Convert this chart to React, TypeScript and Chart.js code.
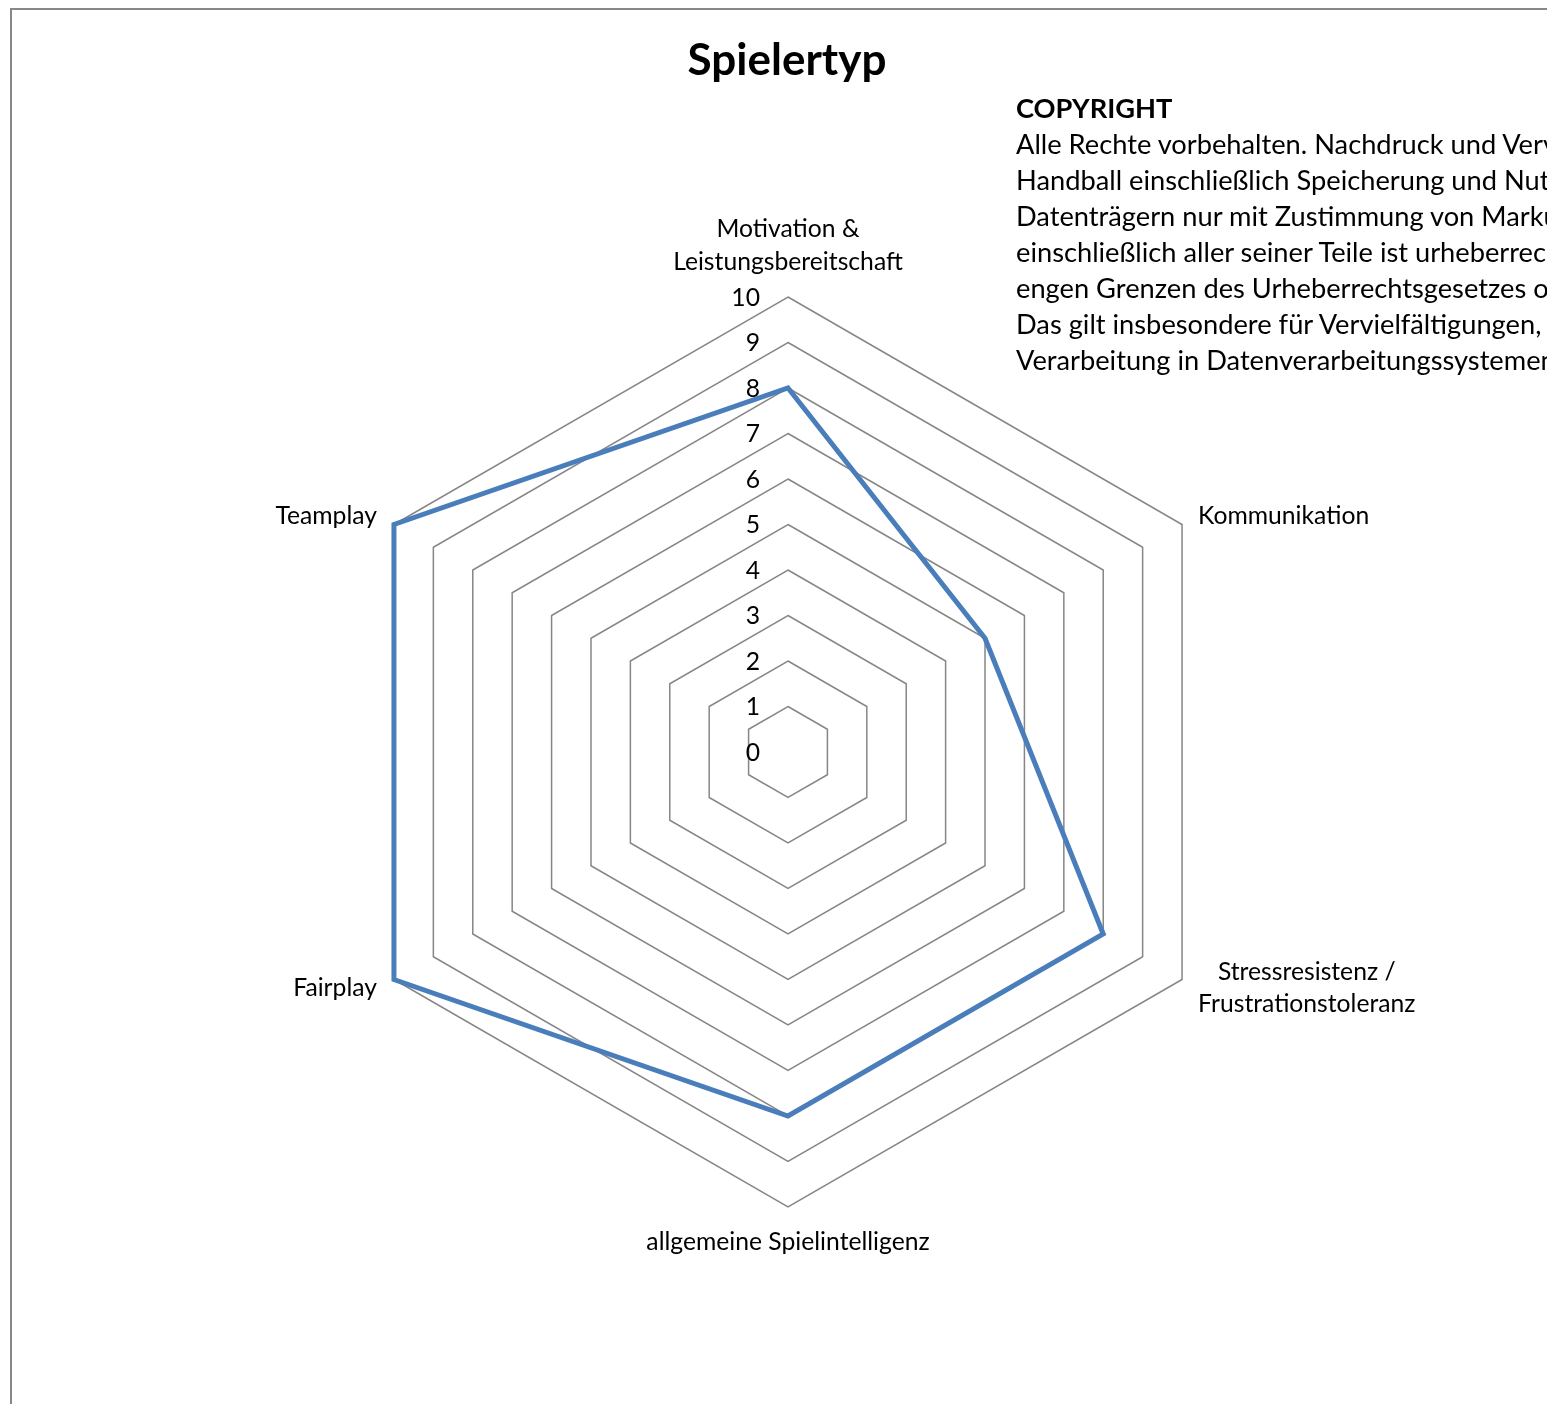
import React, { useEffect, useRef } from "react";
import { Chart, registerables } from "chart.js";

Chart.register(...registerables);

// ---- data ----
const categories: (string | string[])[] = [
  ["Motivation &", "Leistungsbereitschaft"],
  "Kommunikation",
  ["Stressresistenz /", "Frustrationstoleranz"],
  "allgemeine Spielintelligenz",
  "Fairplay",
  "Teamplay",
];
const seriesValues = [8, 5, 8, 8, 10, 10];
const tickValues = [0, 1, 2, 3, 4, 5, 6, 7, 8, 9, 10];
const titleText = "Spielertyp";
const copyrightHeading = "COPYRIGHT";
const copyrightLines = [
  "Alle Rechte vorbehalten. Nachdruck und Vervielfältigung",
  "Handball einschließlich Speicherung und Nutzung",
  "Datenträgern nur mit Zustimmung von Markus",
  "einschließlich aller seiner Teile ist urheberrechtlich",
  "engen Grenzen des Urheberrechtsgesetzes ohne",
  "Das gilt insbesondere für Vervielfältigungen,",
  "Verarbeitung in Datenverarbeitungssystemen.",
];

const FONT = "Lato";
const LABEL_SIZE = 24.7;
const LINE_H = 32.5;

const labelPlugin = {
  id: "radarLabels",
  beforeDatasetsDraw(chart: any) {
    const scale = chart.scales.r;
    const ctx = chart.ctx as CanvasRenderingContext2D;
    ctx.save();
    ctx.fillStyle = "#000";
    ctx.font = `${LABEL_SIZE}px ${FONT}`;
    ctx.textBaseline = "middle";
    ctx.textAlign = "right";
    tickValues.forEach((v) => {
      const d = scale.getDistanceFromCenterForValue(v);
      ctx.fillText(String(v), scale.xCenter - 28, scale.yCenter - d + 1);
    });
    const labels = chart.data.labels as (string | string[])[];
    labels.forEach((lab, i) => {
      const lines = Array.isArray(lab) ? lab : [lab];
      const p = scale.getPointPosition(i, scale.drawingArea);
      const dx = p.x - scale.xCenter;
      const dy = p.y - scale.yCenter;
      const maxW = Math.max(...lines.map((l) => ctx.measureText(l).width));
      const n = lines.length;
      let cx: number;
      let cy0: number;
      if (Math.abs(dx) < 1) {
        cx = p.x;
        cy0 = dy < 0 ? p.y - 35 - (n - 1) * LINE_H : p.y + 35;
      } else {
        cx = dx > 0 ? p.x + 16 + maxW / 2 : p.x - 17 - maxW / 2;
        const blockCenter = p.y + (dy < 0 ? -8.5 : 8.5);
        cy0 = blockCenter - ((n - 1) * LINE_H) / 2;
      }
      ctx.textAlign = "center";
      lines.forEach((l, k) => ctx.fillText(l, cx, cy0 + k * LINE_H));
    });
    ctx.restore();
  },
};

export default function App() {
  const canvasRef = useRef<HTMLCanvasElement | null>(null);

  useEffect(() => {
    const canvas = canvasRef.current;
    if (!canvas) return;
    const chart = new Chart(canvas, {
      type: "radar",
      data: {
        labels: categories as any,
        datasets: [
          {
            label: titleText,
            data: seriesValues,
            borderColor: "#4A7EBB",
            backgroundColor: "rgba(0,0,0,0)",
            borderWidth: 5,
            fill: false,
            pointRadius: 0,
            pointHoverRadius: 0,
            tension: 0,
            borderJoinStyle: "miter",
          } as any,
        ],
      },
      options: {
        responsive: false,
        animation: false,
        devicePixelRatio: 1,
        layout: { padding: { left: 333, top: 297, right: 304, bottom: 197 } },
        plugins: {
          legend: { display: false },
          title: { display: false },
          tooltip: { enabled: false },
        },
        scales: {
          r: {
            min: 0,
            max: 10,
            ticks: { display: false, stepSize: 1 },
            grid: { color: "#868686", lineWidth: 1.5 },
            angleLines: { display: false },
            pointLabels: { display: false },
          },
        },
      } as any,
      plugins: [labelPlugin],
    });
    return () => chart.destroy();
  }, []);

  return (
    <div
      style={{
        position: "absolute",
        left: 0,
        top: 0,
        width: 1547,
        height: 1404,
        overflow: "hidden",
        background: "#fff",
      }}
    >
      <div
        style={{
          position: "absolute",
          left: 10,
          top: 8,
          width: 2000,
          height: 2000,
          borderTop: "2px solid #888",
          borderLeft: "2px solid #888",
        }}
      />
      <canvas
        ref={canvasRef}
        width={1547}
        height={1404}
        style={{ position: "absolute", left: 0, top: 0, width: 1547, height: 1404 }}
      />
      <div
        style={{
          position: "absolute",
          left: 587,
          width: 400,
          top: 28,
          textAlign: "center",
          fontFamily: FONT,
          fontWeight: 700,
          fontSize: 44,
          lineHeight: "60px",
          color: "#000",
        }}
      >
        {titleText}
      </div>
      <div
        style={{
          position: "absolute",
          left: 1016,
          top: 90,
          fontFamily: FONT,
          fontSize: 27.25,
          lineHeight: "36px",
          color: "#000",
          whiteSpace: "nowrap",
        }}
      >
        <div style={{ fontWeight: 700 }}>{copyrightHeading}</div>
        {copyrightLines.map((l, i) => (
          <div key={i}>{l}</div>
        ))}
      </div>
    </div>
  );
}
